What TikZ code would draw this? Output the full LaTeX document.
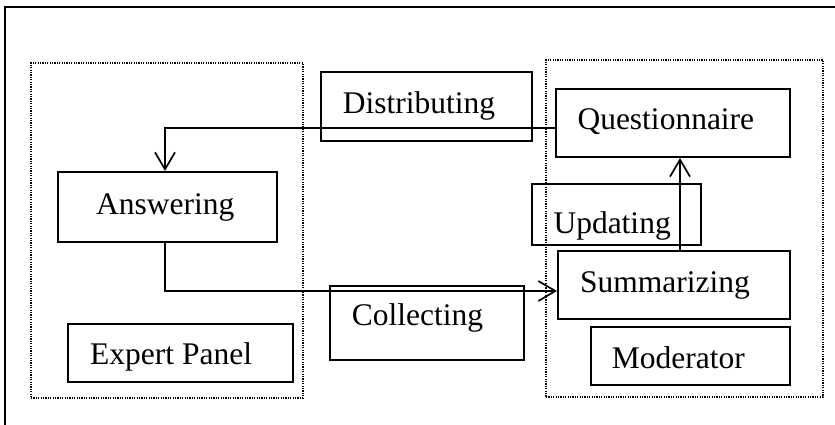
\documentclass[tikz,border=0pt]{standalone}
\usepackage{fontspec}
\setmainfont{Liberation Serif}
\usetikzlibrary{arrows.meta}
\begin{document}
\begin{tikzpicture}[x=1pt,y=-1pt,
  box/.style={draw, line width=2pt, inner sep=0pt, rectangle},
  grp/.style={draw, line width=1.4pt, dash pattern=on 1.2pt off 1.2pt, inner sep=0pt, rectangle},
  txt/.style={anchor=base west, inner sep=0pt, font=\fontsize{31.5}{37}\selectfont},
  arr/.style={line width=1.9pt, -{Straight Barb[length=17pt,width=20pt,line width=1.7pt]}}]
\useasboundingbox (0,0) rectangle (835,425);
% outer frame (partially visible)
\draw[line width=1.8pt] (5,425) -- (5,7) -- (835,7);
% groups
\node[grp, minimum width=272pt, minimum height=335pt] (left) at (167,230.5) {};
\node[grp, minimum width=277pt, minimum height=337pt] (right) at (684.5,228.5) {};
% boxes
\node[box, minimum width=211pt, minimum height=69pt] (D) at (426.5,106.5) {};
\node[box, minimum width=234pt, minimum height=68pt] (Q) at (673,123) {};
\node[box, minimum width=219pt, minimum height=70pt] (A) at (167.5,207) {};
\node[box, minimum width=169pt, minimum height=61pt] (U) at (616.5,214.5) {};
\node[box, minimum width=194pt, minimum height=74pt] (C) at (427,323) {};
\node[box, minimum width=232pt, minimum height=68pt] (S) at (674,285) {};
\node[box, minimum width=199pt, minimum height=58pt] (M) at (690.5,356) {};
\node[box, minimum width=225pt, minimum height=58pt] (E) at (180.5,353) {};
% texts
\node[txt] (tD) at (342.7,113.3) {Distributing};
\node[txt] (tQ) at (577.3,129.5) {Questionnaire};
\node[txt] (tA) at (96,214.3) {Answering};
\node[txt] (tU) at (553.3,233.3) {Updating};
\node[txt] (tC) at (351.7,325.7) {Collecting};
\node[txt] (tS) at (580,292) {Summarizing};
\node[txt] (tM) at (611.7,368) {Moderator};
\node[txt] (tE) at (90,364) {Expert Panel};
% connectors
\coordinate (qa) at (Q.west |- 0,128);
\coordinate (qb) at (165,128);
\coordinate (qc) at (A.north -| 165,0);
\draw[arr] (qa) -- (qb) -- (qc);
\coordinate (ca) at (A.south -| 165,0);
\coordinate (cb) at (165,291);
\coordinate (cc) at (S.west |- 0,291);
\draw[arr] (ca) -- (cb) -- (cc);
\coordinate (ua) at (S.north -| 680,0);
\coordinate (ub) at (Q.south -| 680,0);
\draw[arr] (ua) -- (ub);
\end{tikzpicture}
\end{document}
